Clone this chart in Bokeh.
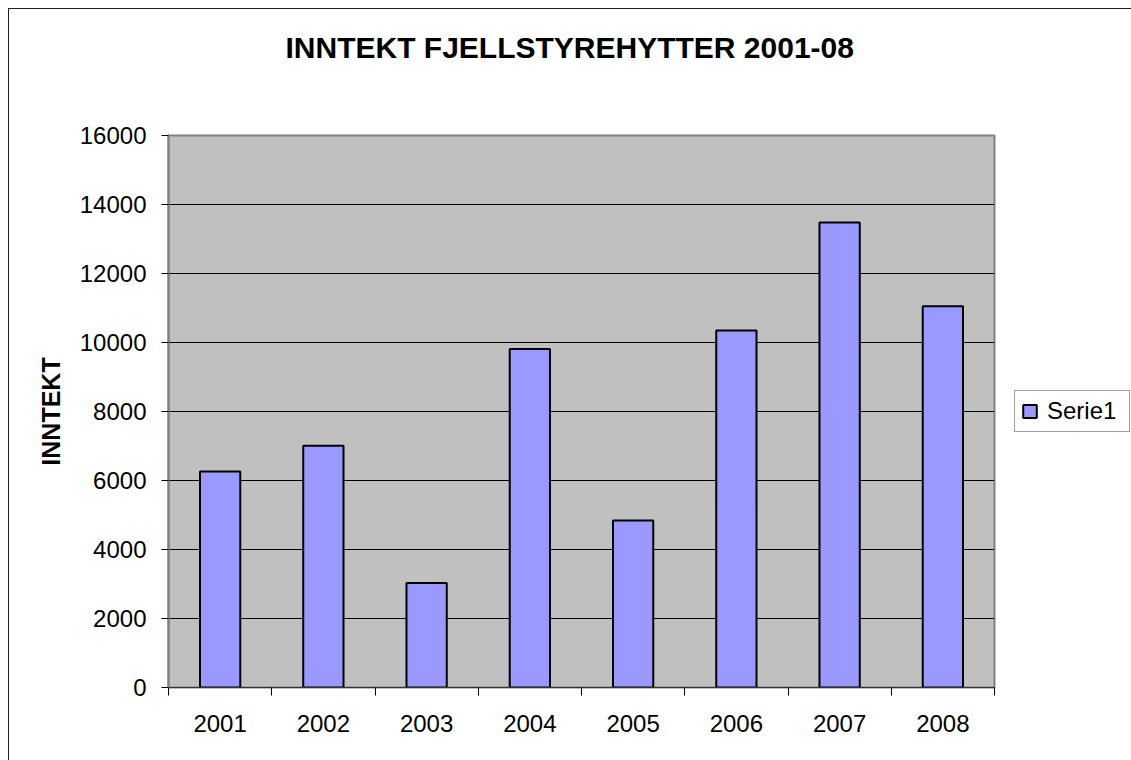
from bokeh.plotting import figure
from bokeh.models import (ColumnDataSource, FixedTicker, Legend, LegendItem, Title)
from bokeh.embed import file_html
from bokeh.resources import INLINE

years = ["2001", "2002", "2003", "2004", "2005", "2006", "2007", "2008"]
values = [6260, 7010, 3030, 9810, 4840, 10350, 13480, 11050]
y_ticks = [0, 2000, 4000, 6000, 8000, 10000, 12000, 14000, 16000]
series_name = "Serie1"
title_text = "INNTEKT FJELLSTYREHYTTER 2001-08"
y_label = "INNTEKT"

FONT = "Liberation Sans"

xpos = [i + 0.5 for i in range(len(years))]
src = ColumnDataSource(dict(x=xpos, top=values, year=years))

p = figure(frame_width=826, frame_height=552, output_backend="svg", toolbar_location=None,
           x_range=(0, len(years)), y_range=(0, 16000),
           min_border_left=159, min_border_right=137, min_border_top=126,
           min_border_bottom=73, title=None)
p.styles = {"margin-left": "8px", "margin-top": "8px",
            "border-left": "1px solid #222", "border-top": "1px solid #222"}

p.background_fill_color = "#C0C0C0"
p.border_fill_color = "white"
p.outline_line_color = "#808080"
p.outline_line_width = 2

r = p.vbar(x="x", top="top", bottom=0, width=0.39, source=src,
           fill_color="#9999FF", line_color="black", line_width=2)

# spacer between frame and title, then the title itself
spacer = Title(text=" ", text_font_size="10px", standoff=54)
p.add_layout(spacer, "above")
t = Title(text=title_text, align="left", vertical_align="bottom", text_font=FONT,
          text_font_size="30px", text_font_style="bold", text_color="black",
          standoff=10, offset=117)
p.add_layout(t, "above")

# y axis
ya = p.yaxis[0]
ya.ticker = FixedTicker(ticks=y_ticks)
ya.axis_line_color = "#808080"
ya.axis_line_width = 2
ya.major_tick_in = 0
ya.major_tick_out = 7
ya.major_tick_line_color = "black"
ya.minor_tick_line_color = None
ya.major_label_text_font = FONT
ya.major_label_text_font_size = "24px"
ya.major_label_text_color = "black"
ya.major_label_standoff = 15
ya.axis_label = y_label
ya.axis_label_text_font = FONT
ya.axis_label_text_font_size = "25px"
ya.axis_label_text_font_style = "bold"
ya.axis_label_text_color = "black"
ya.axis_label_standoff = 12

# x axis: labels at category centres, ticks at category boundaries
xa = p.xaxis[0]
xa.ticker = FixedTicker(ticks=xpos, minor_ticks=list(range(len(years) + 1)))
xa.major_label_overrides = {x: y for x, y in zip(xpos, years)}
xa.major_tick_in = 0
xa.major_tick_out = 0
xa.minor_tick_in = 0
xa.minor_tick_out = 8
xa.minor_tick_line_color = "black"
xa.axis_line_color = "#333333"
xa.axis_line_width = 1
xa.major_label_text_font = FONT
xa.major_label_text_font_size = "24px"
xa.major_label_text_color = "black"
xa.major_label_standoff = 19

p.xgrid.grid_line_color = None
p.ygrid.grid_line_color = "black"
p.ygrid.grid_line_width = 1

legend = Legend(items=[LegendItem(label=series_name, renderers=[r])],
                location=(20, 255), margin=0, padding=6, spacing=0,
                glyph_width=17, glyph_height=16, label_standoff=9,
                label_width=76,
                label_text_font=FONT, label_text_font_size="24px",
                label_height=22, label_text_color="black",
                border_line_color="#444444", border_line_width=1,
                background_fill_color="white", background_fill_alpha=1)
p.add_layout(legend, "right")

open("out.html", "w").write(file_html(p, INLINE))
